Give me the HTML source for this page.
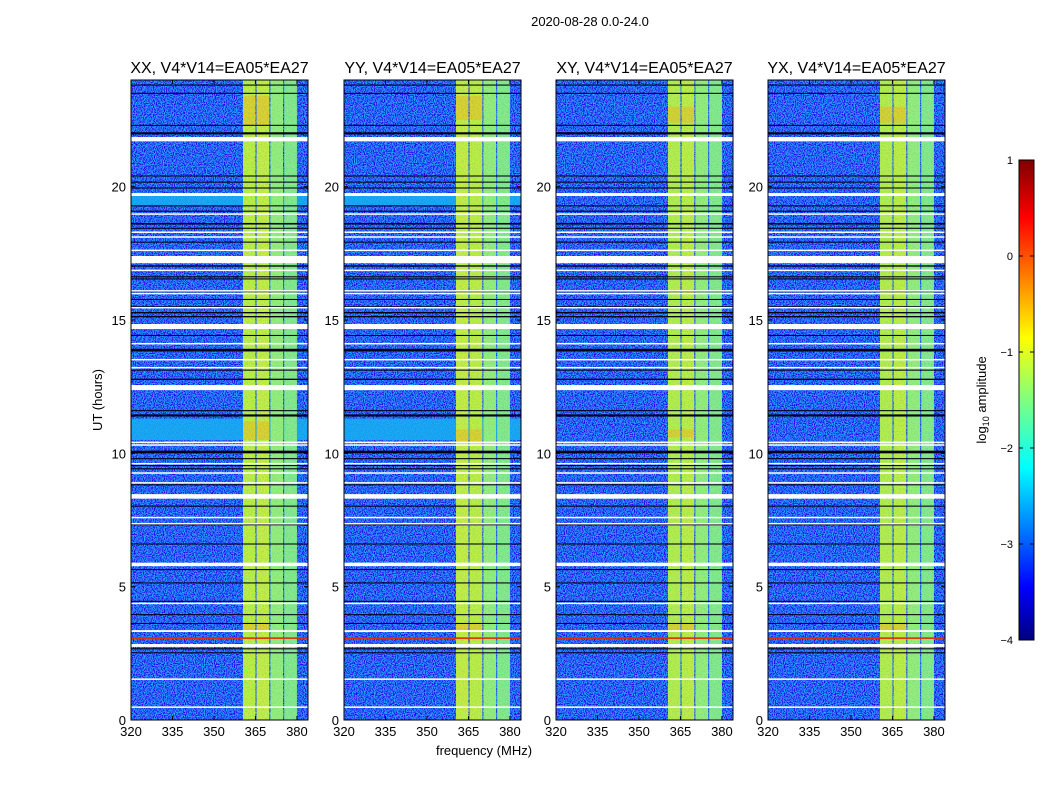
<!DOCTYPE html>
<html><head><meta charset="utf-8"><style>
body{margin:0;background:#fff;width:1050px;height:800px;overflow:hidden;font-family:"Liberation Sans",sans-serif}
svg text{font-family:"Liberation Sans",sans-serif}
</style></head><body>
<svg id="fig" width="1050" height="800" xmlns="http://www.w3.org/2000/svg">
<defs>
<filter id="noise" x="0" y="0" width="100%" height="100%">
<feTurbulence type="fractalNoise" baseFrequency="0.9" numOctaves="1" seed="3"/>
<feColorMatrix type="matrix" values="0 0 0 0 0.02  1.5 0 0 0 -0.6  0.6 0 0 0 0.62  0 0 0 0 1"/>
</filter>
<filter id="noise2" x="0" y="0" width="100%" height="100%">
<feTurbulence type="fractalNoise" baseFrequency="0.7" numOctaves="1" seed="7"/>
<feColorMatrix type="matrix" values="0 0 0 0 0  0 0 0 0 0.2  0 0 0 0 0.6  0 0 0 -1.2 0.75"/>
</filter>
<linearGradient id="jet" x1="0" y1="1" x2="0" y2="0">
<stop offset="0" stop-color="#00007f"/><stop offset="0.11" stop-color="#0000ff"/>
<stop offset="0.36" stop-color="#00ffff"/><stop offset="0.5" stop-color="#7fff7f"/>
<stop offset="0.63" stop-color="#ffff00"/><stop offset="0.88" stop-color="#ff0000"/>
<stop offset="1" stop-color="#7f0000"/></linearGradient>
</defs>
<text x="590" y="26" font-size="13" text-anchor="middle">2020-08-28 0.0-24.0</text>
<text transform="translate(102,400) rotate(-90)" font-size="13" text-anchor="middle">UT (hours)</text>
<text x="484" y="755" font-size="13" text-anchor="middle">frequency (MHz)</text>
</svg>
<script>
const panelTitles=["XX, V4*V14=EA05*EA27","YY, V4*V14=EA05*EA27","XY, V4*V14=EA05*EA27","YX, V4*V14=EA05*EA27"];
const xTicks=[320,335,350,365,380];
const yTicks=[0,5,10,15,20];
const cbTicks=[1,0,-1,-2,-3,-4];
const cbLabels=["1","0","\u22121","\u22122","\u22123","\u22124"];
const whiteRows=[[21.7,21.86],[19.65,19.76],[18.95,19.0],[18.28,18.32],[18.1,18.14],[17.6,17.64],[17.13,17.4],[16.85,16.89],[16.08,16.12],[15.98,16.02],[15.45,15.49],[14.66,14.85],[14.1,14.14],[13.5,13.54],[13.2,13.24],[12.37,12.56],[10.38,10.44],[10.3,10.34],[9.6,9.64],[9.25,9.29],[8.88,8.92],[8.3,8.47],[7.58,7.62],[7.35,7.39],[5.77,5.9],[4.36,4.4],[3.3,3.37],[2.74,2.85],[1.52,1.56],[0.47,0.51]];
const blackRows=[[23.79,23.83],[23.48,23.52],[22.28,22.32],[21.96,22.04],[20.38,20.42],[20.15,20.19],[19.93,19.97],[19.26,19.3],[19.06,19.1],[18.58,18.64],[18.42,18.46],[17.9,17.94],[17.0,17.05],[16.6,16.64],[16.52,16.56],[16.05,16.08],[15.75,15.79],[15.48,15.52],[15.25,15.3],[15.1,15.15],[14.4,14.44],[13.82,13.92],[13.1,13.14],[12.75,12.8],[11.58,11.62],[11.38,11.46],[10.0,10.1],[9.78,9.82],[9.52,9.56],[9.4,9.44],[8.8,8.84],[8.0,8.04],[7.3,7.34],[6.58,6.62],[5.62,5.66],[5.12,5.16],[4.43,4.47],[3.93,3.97],[3.6,3.64],[2.65,2.69],[2.5,2.54]];
const redRows=[[3.04,3.1]];
const cyanBands=[[[19.27,19.65],[10.5,11.3]],[[19.27,19.65],[10.5,11.3]],[],[]];
const brightCols=[[360.5,365],[365.4,370],[370.4,375],[375.4,380]];
const colColors=[["#c0f040","#c8f040","#98f078","#88ec88"],["#c8f040","#c0f040","#98f078","#88ec88"],["#b8f048","#c0f040","#98f078","#88ec88"],["#b8f048","#c0f040","#98f078","#88ec88"]];
const hotPatches=[[[22.3,23.4],[3.3,3.6],[10.5,11.2]],[[22.5,23.4],[3.3,3.6],[10.4,10.9]],[[22.4,23.0],[3.3,3.6],[10.6,10.9]],[[22.4,23.0],[3.3,3.6]]];
const panelX=[131,344,556,768], PW=177, PT=80, PH=640;
const fmin=320,fmax=384,tmin=0,tmax=24;
const svg=document.getElementById('fig');
const NS="http://www.w3.org/2000/svg";
function mk(t,a,p){const e=document.createElementNS(NS,t);for(const k in a)e.setAttribute(k,a[k]);(p||svg).appendChild(e);return e;}
panelX.forEach((px,pi)=>{
 const xs=f=>px+(f-fmin)/(fmax-fmin)*PW;
 const ys=h=>PT+PH-(h-tmin)/(tmax-tmin)*PH;
 const g=mk('g',{});
 
 
 const bg=mk('rect',{x:px,y:PT,width:PW,height:PH,fill:'#0828e0'},g);
 
 
 const nz=mk('rect',{x:px,y:PT,width:PW,height:PH,filter:'url(#noise)'},g);
 
 
 cyanBands[pi].forEach(b=>{const r=mk('rect',{x:px,y:ys(b[1]),width:PW,height:ys(b[0])-ys(b[1]),fill:'#18b0f0',opacity:0.85},g);
  
  });
 brightCols.forEach((c,ci)=>{const r=mk('rect',{x:xs(c[0]),y:PT,width:xs(c[1])-xs(c[0]),height:PH,fill:colColors[pi][ci]},g);
  
  });
 hotPatches[pi].forEach(h=>{[0,1].forEach(ci=>{const c=brightCols[ci];const r=mk('rect',{x:xs(c[0]),y:ys(h[1]),width:xs(c[1])-xs(c[0]),height:ys(h[0])-ys(h[1]),fill:'#f0c020',opacity:0.6},g);
  
  });});
 const bn=mk('rect',{x:xs(brightCols[0][0]),y:PT,width:xs(brightCols[3][1])-xs(brightCols[0][0]),height:PH,filter:'url(#noise2)',opacity:0.35},g);
 
 
 blackRows.forEach(b=>{const r=mk('rect',{x:px,y:ys(b[1]),width:PW,height:Math.max(1,ys(b[0])-ys(b[1])),fill:'#000010'},g);
  
  });
 redRows.forEach(b=>{const r=mk('rect',{x:px,y:ys(b[1]),width:PW,height:Math.max(1,ys(b[0])-ys(b[1])),fill:'#e03000'},g);
  
  });
 whiteRows.forEach(b=>{const r=mk('rect',{x:px,y:ys(b[1]),width:PW,height:Math.max(1.5,ys(b[0])-ys(b[1])),fill:'#ffffff'},g);
  
  });
 const fr=mk('rect',{x:px,y:PT,width:PW,height:PH,fill:'none',stroke:'#000','stroke-width':1},g);
 
 
 const t=mk('text',{x:px+PW/2,y:PT-7,'font-size':16,'text-anchor':'middle'},g);t.textContent=panelTitles[pi];
 
 
 xTicks.forEach(v=>{const x=xs(v);
  mk('line',{x1:x,y1:PT+PH,x2:x,y2:PT+PH-4,stroke:'#000'},g);mk('line',{x1:x,y1:PT,x2:x,y2:PT+4,stroke:'#000'},g);
  const l=mk('text',{x:x,y:PT+PH+16,'font-size':13,'text-anchor':'middle'},g);l.textContent=v;
  
  });
 yTicks.forEach(v=>{const y=ys(v);
  mk('line',{x1:px,y1:y,x2:px+4,y2:y,stroke:'#000'},g);mk('line',{x1:px+PW,y1:y,x2:px+PW-4,y2:y,stroke:'#000'},g);
  const l=mk('text',{x:px-5,y:y+5,'font-size':13,'text-anchor':'end'},g);l.textContent=v;
  
  });
});
const cbX=1019,cbW=15,cbT=160,cbH=480,cmin=-4,cmax=1;
const cy=v=>cbT+cbH-(v-cmin)/(cmax-cmin)*cbH;
const cb=mk('rect',{x:cbX,y:cbT,width:cbW,height:cbH,fill:'url(#jet)',stroke:'#000'});


cbTicks.forEach((v,i)=>{const y=cy(v);
 mk('line',{x1:cbX,y1:y,x2:cbX+4,y2:y,stroke:'#000'});mk('line',{x1:cbX+cbW,y1:y,x2:cbX+cbW-4,y2:y,stroke:'#000'});
 const l=mk('text',{x:cbX-6,y:y+4,'font-size':11,'text-anchor':'end'});l.textContent=cbLabels[i];
 
 });
const cl=mk('text',{transform:'translate(986,400) rotate(-90)','font-size':13,'text-anchor':'middle'});
cl.innerHTML='log<tspan font-size="9" dy="3">10</tspan><tspan dy="-3"> amplitude</tspan>';


</script>
</body></html>
